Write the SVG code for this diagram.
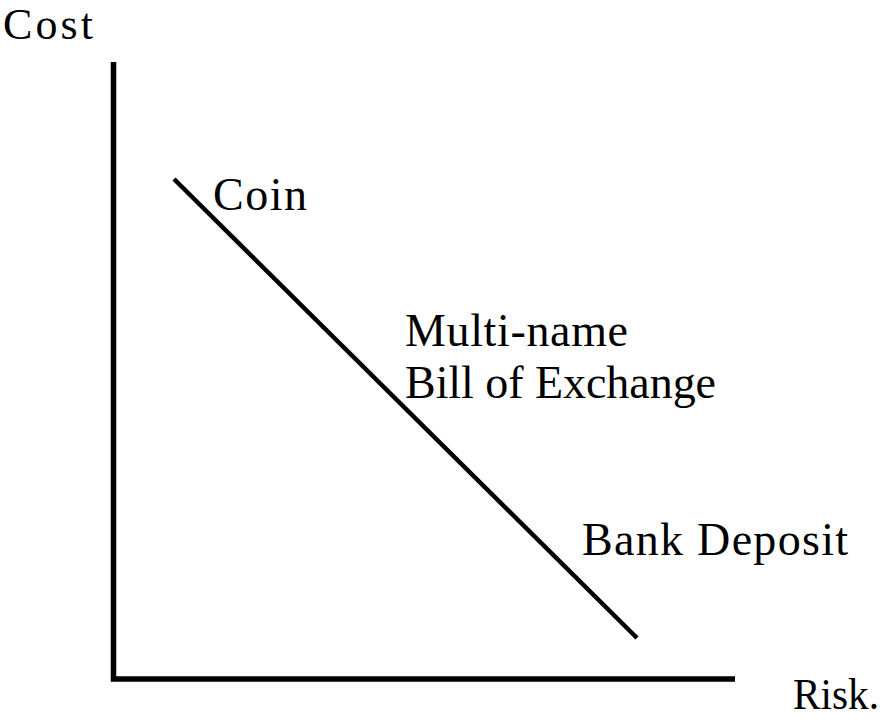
<svg xmlns="http://www.w3.org/2000/svg" width="883" height="719" viewBox="0 0 883 719">
<style>
.lbl{font-family:"Liberation Serif","Times New Roman",serif;font-size:46px;fill:#000}
.sm{font-size:44px}
.ax{stroke:#000;stroke-width:5.5;fill:none;stroke-linecap:butt}
.ln{stroke:#000;stroke-width:4.5;fill:none}
</style>
<rect width="883" height="719" fill="#fff"/>
<g id="axes">
<path class="ax" d="M113.5 62 V679 H735"/>
</g>
<g id="connectors">
<line class="ln" x1="174" y1="179" x2="637" y2="638"/>
</g>
<g id="cost"><text class="lbl sm" x="3" y="39" textLength="90" lengthAdjust="spacing">Cost</text></g>
<g id="coin"><text class="lbl" x="213" y="210" textLength="94" lengthAdjust="spacing">Coin</text></g>
<g id="bill">
<text class="lbl" x="405" y="346" textLength="223" lengthAdjust="spacing">Multi-name</text>
<text class="lbl" x="405" y="398" textLength="311" lengthAdjust="spacing">Bill of Exchange</text>
</g>
<g id="bank"><text class="lbl" x="582" y="555" textLength="266" lengthAdjust="spacing">Bank Deposit</text></g>
<g id="risk"><text class="lbl sm" x="793" y="709" textLength="86" lengthAdjust="spacingAndGlyphs">Risk.</text></g>
</svg>
